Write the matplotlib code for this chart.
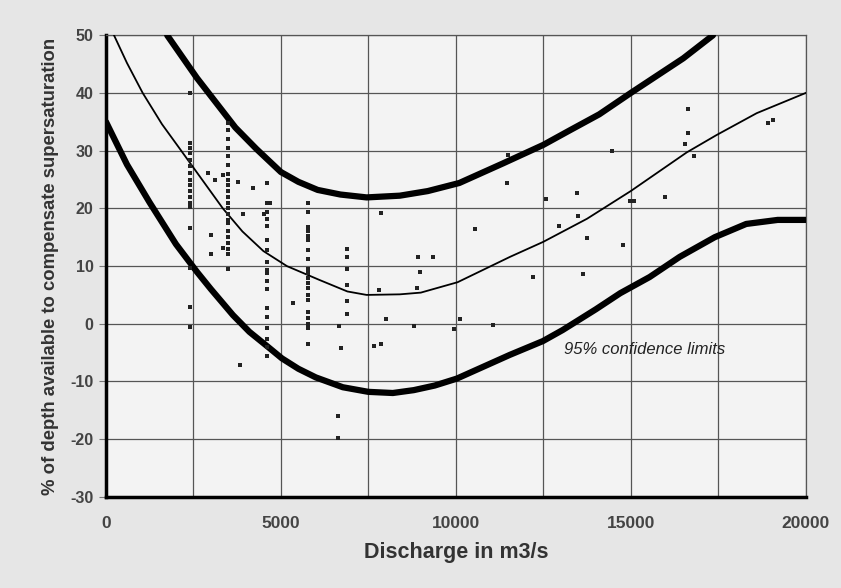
import matplotlib
matplotlib.use("Agg")
import matplotlib.pyplot as plt
from matplotlib.ticker import MultipleLocator

# ------------------------------------------------------------------
# Curves (discharge m3/s -> % depth)
# ------------------------------------------------------------------
upper_x = [1750, 2600, 3700, 4300, 5000, 5500, 6050, 6700, 7450, 8400,
           9200, 10100, 11350, 12500, 13250, 14100, 15000, 15550, 16500,
           17350]
upper_y = [50, 42.6, 34, 30.3, 26.3, 24.6, 23.2, 22.4, 21.9, 22.2,
           23.0, 24.4, 27.8, 31, 33.5, 36.3, 40, 42.2, 46,
           50]

mean_x = [230, 600, 1050, 1600, 2150, 3340, 3900, 4500, 5170, 6100, 6900,
          7450, 8400, 9000, 10050, 11550, 12500, 13750, 15000, 16600,
          17450, 18600, 20000]
mean_y = [50, 45.2, 40, 34.6, 30, 20, 16, 12.6, 10, 7.6, 5.6,
          5.0, 5.1, 5.4, 7.2, 11.6, 14.2, 18.2, 23, 29.7,
          32.7, 36.5, 40]

lower_x = [0, 600, 1250, 2000, 2600, 3000, 3630, 4100, 4630, 5030, 5500,
           6000, 6770, 7500, 8200, 8800, 9400, 10030, 11540, 12490, 13050,
           14000, 14700, 15540, 16400, 17400, 18300, 19200, 20000]
lower_y = [35, 27.6, 21, 13.8, 9.0, 6, 1.5, -1.4, -4, -6, -7.8,
           -9.3, -11, -11.8, -12, -11.5, -10.7, -9.5, -5.4, -3.0, -1.1,
           2.5, 5.3, 8.1, 11.6, 15, 17.3, 18, 18]

# ------------------------------------------------------------------
# Observations
# ------------------------------------------------------------------
col1_y = [40, 31.3, 30.5, 29.6, 28.4, 27.3, 26.2, 25, 24, 23, 22, 21,
          20.2, 16.6, 9.6, 2.9, -0.5]
col2_y = [34.8, 33.5, 32, 30.5, 29, 27.5, 26, 25, 24, 23, 22, 21, 20,
          19, 18, 17.5, 16, 15, 14, 13, 12.1, 9.5]
col3_y = [24.4, 20.9, 19.4, 18.2, 17, 14.5, 12.8, 10.7, 9.3, 8.8, 7.4, 6,
          2.7, 1.2, -0.7, -2.6, -4, -5.6]
col4_y = [20.9, 19.4, 16.8, 16, 15.2, 14.5, 12.8, 11.2, 9.5, 8.8, 7.9, 7,
          6.2, 5, 4.1, 2, 1, 0, -0.7, -3.5]
col5_y = [13, 11.6, 9.5, 6.7, 4, 1.7]

other_x = [2914, 3114, 3343, 3771, 4200, 4686, 3000, 3000, 3914, 4514,
           3343, 3829, 5343, 6650, 6714, 6629, 6629,
           7857, 7800, 8000, 7657, 7857, 8800, 8914, 9343, 8971, 8886,
           9943, 10114, 11057, 10543, 11486, 11457, 12200, 12571, 12943,
           13457, 13486, 13629, 13743, 14457, 14771, 14971, 15100, 15971,
           16543, 16629, 16629, 16800, 18914, 19057]
other_y = [26.1, 25, 25.7, 24.5, 23.5, 20.9, 15.4, 12.1, 19, 19,
           13.1, -7.1, 3.6, -0.4, -4.2, -16, -19.8,
           19.2, 5.8, 0.8, -3.9, -3.5, -0.4, 11.6, 11.6, 9, 6.2,
           -0.9, 0.8, -0.2, 16.4, 29.2, 24.4, 8.1, 21.6, 16.9,
           22.6, 18.7, 8.6, 14.8, 29.9, 13.6, 21.3, 21.3, 22,
           31.1, 33, 37.3, 29, 34.8, 35.3]

pts_x = ([2400] * len(col1_y) + [3490] * len(col2_y) + [4600] * len(col3_y)
         + [5770] * len(col4_y) + [6880] * len(col5_y) + other_x)
pts_y = col1_y + col2_y + col3_y + col4_y + col5_y + other_y

# ------------------------------------------------------------------
# Plot
# ------------------------------------------------------------------
plt.rcParams['font.family'] = ['Liberation Sans', 'DejaVu Sans']
plt.rcParams['axes.unicode_minus'] = False

fig = plt.figure(figsize=(8.41, 5.88), dpi=100, facecolor='#e6e6e6')
ax = fig.add_axes([0.126, 0.155, 0.832, 0.785])
ax.set_facecolor('#f3f3f3')

ax.plot(upper_x, upper_y, color='black', lw=4.5, solid_capstyle='round',
        solid_joinstyle='round', zorder=4)
ax.plot(lower_x, lower_y, color='black', lw=4.5, solid_capstyle='round',
        solid_joinstyle='round', zorder=4)
ax.plot(mean_x, mean_y, color='black', lw=1.3, solid_joinstyle='round',
        zorder=4)
ax.scatter(pts_x, pts_y, marker='s', s=8, color='#222222', lw=0, zorder=5)

ax.text(15400, -4.5, '95% confidence limits', style='italic', fontsize=12,
        ha='center', va='center', color='#222222', zorder=6)

ax.set_xlim(0, 20000)
ax.set_ylim(-30, 50)
ax.xaxis.set_major_locator(MultipleLocator(5000))
ax.xaxis.set_minor_locator(MultipleLocator(2500))
ax.yaxis.set_major_locator(MultipleLocator(10))
ax.grid(True, which='both', color='#555555', lw=0.9)
ax.set_axisbelow(True)

for s in ['top', 'right']:
    ax.spines[s].set_color('#555555')
    ax.spines[s].set_linewidth(0.9)
for s in ['left', 'bottom']:
    ax.spines[s].set_color('black')
    ax.spines[s].set_linewidth(2.5)

ax.tick_params(axis='x', which='both', length=0, pad=14, labelsize=12.5,
               labelcolor='#444444')
ax.tick_params(axis='y', length=5, color='#777777', pad=4, labelsize=11.5,
               labelcolor='#444444')
for lab in ax.get_xticklabels() + ax.get_yticklabels():
    lab.set_fontweight('bold')

ax.set_xlabel('Discharge in m3/s', fontsize=15.5, fontweight='bold',
              color='#333333', labelpad=8)
ax.set_ylabel('% of depth available to compensate supersaturation',
              fontsize=13.3, fontweight='bold', color='#333333', labelpad=8)

fig.savefig('out.png', dpi=100, facecolor=fig.get_facecolor())
